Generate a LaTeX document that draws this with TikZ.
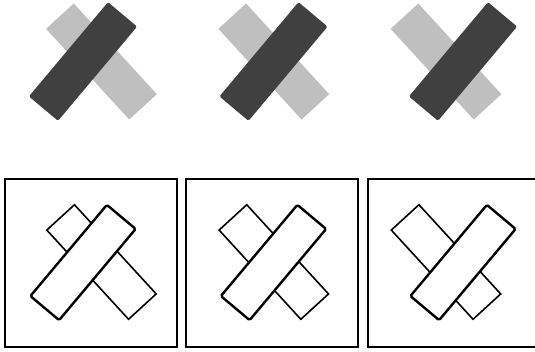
\documentclass[tikz,border=0pt]{standalone}
\usepackage{tikz}
\definecolor{barlight}{gray}{0.75}
\definecolor{bardark}{gray}{0.25}

\begin{document}
\begin{tikzpicture}[x=1pt, y=-1pt, bar/.style={rectangle,inner sep=0pt,minimum width=123pt,minimum height=37.5pt}, lightbar/.style={bar,fill=barlight,rotate=-47.5}, darkbar/.style={bar,fill=bardark,rounded corners=1.5pt,minimum height=38pt,rotate=50}, backline/.style={bar,draw=black,fill=white,line width=1.6pt,minimum width=121pt,rotate=-47.5}, frontline/.style={bar,draw=black,fill=white,line width=2.4pt,rounded corners=1.5pt,minimum width=119pt,rotate=50}, panel/.style={draw=black,line width=1.6pt,minimum width=172pt,minimum height=168pt,inner sep=0pt}]
\useasboundingbox (0,0) rectangle (535,351);
% top row: filled bars, bottom row: the same bars as outlines in frames
\foreach \i/\lx/\dx/\fx in {1/101.5/83/91, 2/273.8/273.5/272, 3/446/463/454} {
  \node[lightbar] (l\i) at (\lx,61.5) {};
  \node[darkbar] (d\i) at (\dx,61.5) {};
  \node[panel] (f\i) at (\fx,263) {};
  \node[backline] (lb\i) at (\lx,262) {};
  \node[frontline] (db\i) at (\dx,262.5) {};
}
\end{tikzpicture}
\end{document}
